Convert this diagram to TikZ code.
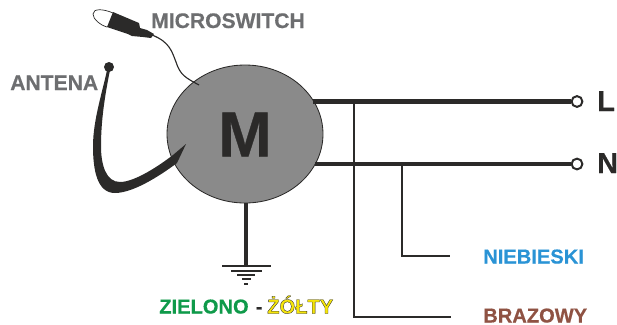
\documentclass[tikz,border=0pt]{standalone}
\usepackage{fontspec}
\setmainfont{Liberation Sans}[BoldFeatures={FakeBold=0.5}]
\newfontfamily\obrysfont{Liberation Sans}[BoldFeatures={FakeBold=1.6}]
\usetikzlibrary{shapes.geometric}
\definecolor{ciemny}{HTML}{2B2A29}
\definecolor{szary}{HTML}{6D6E70}
\definecolor{silnik}{HTML}{8A8A8A}
\definecolor{niebieski}{HTML}{2A93D5}
\definecolor{brazowy}{HTML}{8F5243}
\definecolor{zielony}{HTML}{0F9A4A}
\definecolor{zolty}{HTML}{F5E50A}
\newcommand{\obrys}[1]{\special{pdf:code q 0.17 0.16 0.16 RG}#1\special{pdf:code Q}}
\tikzset{
  gruby/.style={ciemny,line width=2.9pt},
  cienki/.style={ciemny,line width=1.1pt},
  zacisk/.style={circle,draw=ciemny,fill=white,line width=1.4pt,minimum size=0.27cm,inner sep=0pt},
  opis/.style={font=\bfseries\fontsize{15}{15}\selectfont,text=szary,inner sep=0pt,anchor=base west},
  kolor/.style={font=\bfseries\fontsize{14.3}{14.3}\selectfont,inner sep=0pt,anchor=base west},
  litera/.style={font=\bfseries\fontsize{20.5}{20.5}\selectfont,text=ciemny,inner sep=0pt,anchor=base west}
}
\begin{document}
\begin{tikzpicture}[x=0.025cm,y=-0.025cm]
\useasboundingbox (0,0) rectangle (617,324);
\coordinate (wL) at (313,101.5);
\coordinate (wN) at (315,164);
\coordinate (odgL) at (354,101);
\coordinate (odgN) at (402,164);
\coordinate (brazK) at (451,317);
\coordinate (niebK) at (450,256);
\coordinate (ziemia) at (246,266);
% silnik
\draw[ciemny,line width=0.6pt,fill=silnik] (245,134) ellipse (78 and 69);
\node[inner sep=0pt,font=\bfseries\fontsize{45.5}{45.5}\selectfont,text=ciemny] (motor) at (245,134.5) {M};
\coordinate (dol) at (246,203);
% przewody
\node[zacisk] (L) at (577,101.5) {};
\node[zacisk] (N) at (577,164) {};
\draw[gruby] (wL)--(L);
\draw[gruby] (wN)--(N);
\draw[cienki] (odgL)--(odgL|-brazK)--(brazK);
\draw[cienki] (odgN)--(odgN|-niebK)--(niebK);
% uziemienie
\draw[ciemny,line width=2.2pt] (dol)--(ziemia);
\draw[ciemny,line width=1.2pt] (222,266)--(271,266);
\draw[ciemny,line width=1pt] (231,271)--(262,271);
\draw[ciemny,line width=1pt] (237,275)--(255,275);
\draw[ciemny,line width=1pt] (242,279)--(251,279);
\draw[ciemny,line width=1pt] (244,284)--(248,284);
% antena
\fill[ciemny] (109,67) circle (5);
\fill[ciemny] (107,70) .. controls (103,90) and (93,120) .. (93,146)
  .. controls (93,170) and (97,193) .. (115,193)
  .. controls (135,193) and (165,172) .. (177,163)
  -- (186,144) -- (173,155)
  .. controls (160,165) and (135,182) .. (120,182)
  .. controls (106,182) and (101,165) .. (101,146)
  .. controls (101,120) and (105,95) .. (110,70) -- cycle;
% microswitch
\draw[ciemny,line width=0.5pt] (113,13) .. controls (104,9) and (93,8) .. (93,14)
  .. controls (93,19) and (100,25) .. (107,27);
\fill[ciemny] (113,12) -- (107,27) -- (128,34) -- (132,36) -- (143,37) -- (151,38)
  -- (154,34) -- (147,30) -- (140,28) -- (139,23) -- cycle;
\draw[ciemny,line width=0.8pt] (152,35) .. controls (170,42) and (172,52) .. (176,62)
  .. controls (180,75) and (186,78) .. (199,85);
% opisy
\node[opis] (antena) at (10,90) {ANTENA};
\node[opis] (microswitch) at (151,28) {MICROSWITCH};
\node[litera] (opisL) at (597,111) {L};
\node[litera] (opisN) at (597,173) {N};
\node[kolor,text=niebieski] (nieb) at (483,263.5) {NIEBIESKI};
\node[kolor,text=brazowy] (braz) at (483,322.5) {BRAZOWY};
\node[kolor,text=zielony] (ziel) at (159,313.5) {ZIELONO};
\node[kolor,text=ciemny] (myslnik) at (255.5,313.5) {-};
\node[kolor,text=zolty] (zolt) at (267,313.5) {\obrysfont\bfseries\obrys{ŻÓŁTY}};
\end{tikzpicture}
\end{document}
